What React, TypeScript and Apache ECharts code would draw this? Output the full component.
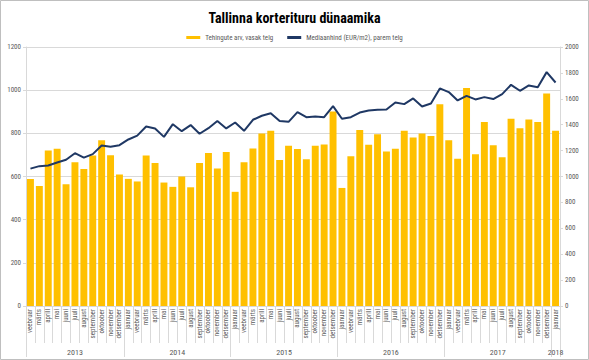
import React, { useEffect, useRef } from "react";
import * as echarts from "echarts";

const monthNames = ["jaanuar", "veebruar", "märts", "aprill", "mai", "juuni", "juuli", "august", "september", "oktoober", "november", "detsember"];
const years = ["2013", "2014", "2015", "2016", "2017", "2018"];
const monthsPerYear = [11, 12, 12, 12, 12, 1];
const firstMonthIndex = 1; // series starts in veebruar 2013

const deals = [
  588, 556, 720, 728, 564, 666, 635, 697, 768, 699, 609,
  589, 577, 697, 663, 572, 552, 600, 550, 662, 709, 637, 713,
  529, 666, 730, 799, 812, 676, 742, 727, 680, 742, 748, 901,
  547, 694, 815, 747, 796, 716, 728, 812, 781, 799, 788, 935,
  768, 682, 1010, 703, 853, 745, 689, 867, 824, 864, 852, 985,
  812,
];

const medianPrice = [
  1061, 1080, 1085, 1108, 1129, 1180, 1146, 1173, 1239, 1229, 1242,
  1286, 1316, 1386, 1371, 1306, 1404, 1350, 1397, 1330, 1373, 1428, 1371,
  1417, 1353, 1438, 1469, 1489, 1428, 1422, 1497, 1458, 1463, 1458, 1543,
  1446, 1458, 1494, 1510, 1515, 1518, 1572, 1559, 1603, 1541, 1564, 1680,
  1652, 1587, 1623, 1595, 1613, 1598, 1636, 1708, 1662, 1703, 1690, 1806,
  1726,
];

const leftTicks = { min: 0, max: 1200, interval: 200 };
const rightTicks = { min: 0, max: 2000, interval: 200 };

const title = "Tallinna korterituru dünaamika";
const legendBars = "Tehingute arv, vasak telg";
const legendLine = "Mediaanhind (EUR/m2), parem telg";

export default function App() {
  const ref = useRef<HTMLDivElement>(null);
  useEffect(() => {
    if (!ref.current) return;
    const chart = echarts.init(ref.current, null, { renderer: "svg" });

    // month categories
    const months: string[] = [];
    let m = firstMonthIndex;
    monthsPerYear.forEach((cnt) => {
      for (let i = 0; i < cnt; i++) {
        months.push(monthNames[m % 12]);
        m++;
      }
    });
    const n = months.length;
    // year axis: 2n+1 points (half-month resolution, no boundary gap)
    const yearSlots: string[] = new Array(2 * n + 1).fill("");
    const yearTickIdx = new Set<number>();
    const yearLabelIdx = new Set<number>();
    let start = 0;
    yearTickIdx.add(0);
    monthsPerYear.forEach((cnt, yi) => {
      const center = start * 2 + cnt; // (start + cnt/2) * 2
      yearSlots[center] = years[yi];
      yearLabelIdx.add(center);
      start += cnt;
      yearTickIdx.add(start * 2);
    });

    const font = "'Liberation Sans Narrow', 'Roboto Condensed', Roboto, sans-serif";
    const labelColor = "#595959";
    const gridColor = "#d9d9d9";
    const plain = (v: number) => String(v);

    chart.setOption({
      animation: false,
      backgroundColor: "#ffffff",
      title: {
        text: title,
        left: "center",
        top: 6,
        textStyle: { fontFamily: font, fontWeight: "bold", fontSize: 14, color: "#000000" },
      },
      legend: {
        top: 29,
        left: "center",
        itemGap: 14,
        itemWidth: 14,
        itemHeight: 3,
        textStyle: { fontFamily: font, fontSize: 7, color: labelColor },
        data: [
          { name: legendBars, icon: "rect" },
          { name: legendLine, icon: "rect", itemStyle: { color: "#1F3864" } },
        ],
      },
      grid: { left: 26, right: 29, top: 47, bottom: 54 },
      xAxis: [
        {
          type: "category",
          data: months,
          position: "bottom",
          boundaryGap: true,
          axisLine: { show: true, lineStyle: { color: gridColor } },
          axisTick: { show: true, interval: 0, length: 37, lineStyle: { color: gridColor } },
          axisLabel: {
            interval: 0,
            rotate: 90,
            fontFamily: font,
            fontSize: 7,
            color: labelColor,
            margin: 3,
          },
          splitLine: { show: false },
        },
        {
          type: "category",
          data: yearSlots,
          position: "bottom",
          boundaryGap: false,
          axisLine: { show: false },
          axisTick: {
            show: true,
            length: 51,
            interval: (idx: number) => yearTickIdx.has(idx),
            lineStyle: { color: gridColor },
          },
          axisLabel: {
            interval: (idx: number) => yearLabelIdx.has(idx),
            fontFamily: font,
            fontSize: 8,
            color: labelColor,
            margin: 42,
          },
          splitLine: { show: false },
        },
      ],
      yAxis: [
        {
          type: "value",
          position: "left",
          ...leftTicks,
          axisLine: { show: true, lineStyle: { color: gridColor } },
          axisTick: { show: true, length: 3, lineStyle: { color: gridColor } },
          axisLabel: { fontFamily: font, fontSize: 7, color: labelColor, margin: 5, formatter: plain },
          splitLine: { show: true, lineStyle: { color: gridColor, width: 1 } },
        },
        {
          type: "value",
          position: "right",
          ...rightTicks,
          axisLine: { show: true, lineStyle: { color: gridColor } },
          axisTick: { show: true, length: 3, lineStyle: { color: gridColor } },
          axisLabel: { fontFamily: font, fontSize: 7, color: labelColor, margin: 5, formatter: plain },
          splitLine: { show: false },
        },
      ],
      series: [
        {
          name: legendBars,
          type: "bar",
          data: deals,
          xAxisIndex: 0,
          yAxisIndex: 0,
          barCategoryGap: "22%",
          itemStyle: { color: "#FFC000" },
        },
        {
          name: legendLine,
          type: "line",
          data: medianPrice,
          xAxisIndex: 0,
          yAxisIndex: 1,
          symbol: "none",
          lineStyle: { color: "#1F3864", width: 2 },
          itemStyle: { color: "#1F3864" },
        },
      ],
      graphic: [
        {
          type: "rect",
          shape: { x: 0.5, y: 0.5, width: 588, height: 359 },
          style: { fill: "none", stroke: "#bfbfbf", lineWidth: 1 },
          silent: true,
        },
      ],
    });
    return () => chart.dispose();
  }, []);
  return (
    <div
      ref={ref}
      style={{ position: "fixed", left: 0, top: 0, width: 589, height: 360 }}
    />
  );
}
